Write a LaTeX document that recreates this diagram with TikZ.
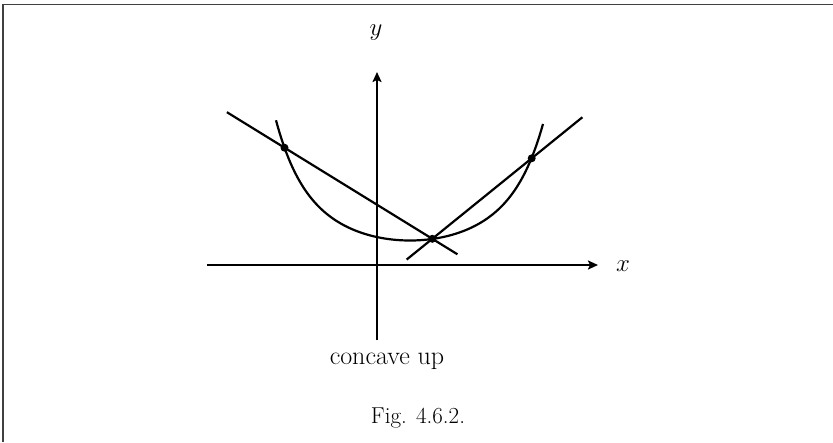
\documentclass[tikz,border=0pt]{standalone}
\usetikzlibrary{arrows.meta,calc}

\begin{document}
\begin{tikzpicture}[x=1pt,y=-1pt,line width=2.2pt,
    axis/.style={-{Stealth[length=10pt,width=9pt,inset=2pt]}},
    dot/.style={circle,fill,inner sep=0pt,minimum size=8pt}]
    \useasboundingbox (0,0) rectangle (833,442);
    \draw[line width=1.6pt,black!75] (3,442) -- (3,4.5) -- (833,4.5);
    \coordinate (O) at (377,265);
    \coordinate (xl) at (207,265);
    \coordinate (xr) at (598,265);
    \coordinate (yb) at (377,340);
    \coordinate (yt) at (377,72);
    \draw[axis] (xl) -- (xr);
    \draw[axis] (yb) -- (yt);
    \node (xlab) at (623,266) {\fontsize{32}{34}\selectfont$x$};
    \node (ylab) at (376,33) {\fontsize{32}{34}\selectfont$y$};
    \draw plot[domain=-134:133,samples=150]
        ({410+\x},{240.5-0.25*(\x/10)*(\x/10)-0.715*(cosh(\x/25)-1)});
    \coordinate (P1) at (284.5,147.7);
    \coordinate (P2) at (432.3,238.8);
    \coordinate (P3) at (531.7,158.3);
    \draw ($(P1)!-0.39!(P2)$) -- ($(P1)!1.17!(P2)$);
    \draw ($(P2)!-0.258!(P3)$) -- ($(P2)!1.51!(P3)$);
    \node[dot] (d1) at (P1) {};
    \node[dot] (d2) at (P2) {};
    \node[dot] (d3) at (P3) {};
    \node (cap1) at (387,361) {\fontsize{26}{30}\selectfont concave up};
    \node (cap2) at (418,418) {\fontsize{23}{28}\selectfont Fig. 4.6.2.};
\end{tikzpicture}
\end{document}
